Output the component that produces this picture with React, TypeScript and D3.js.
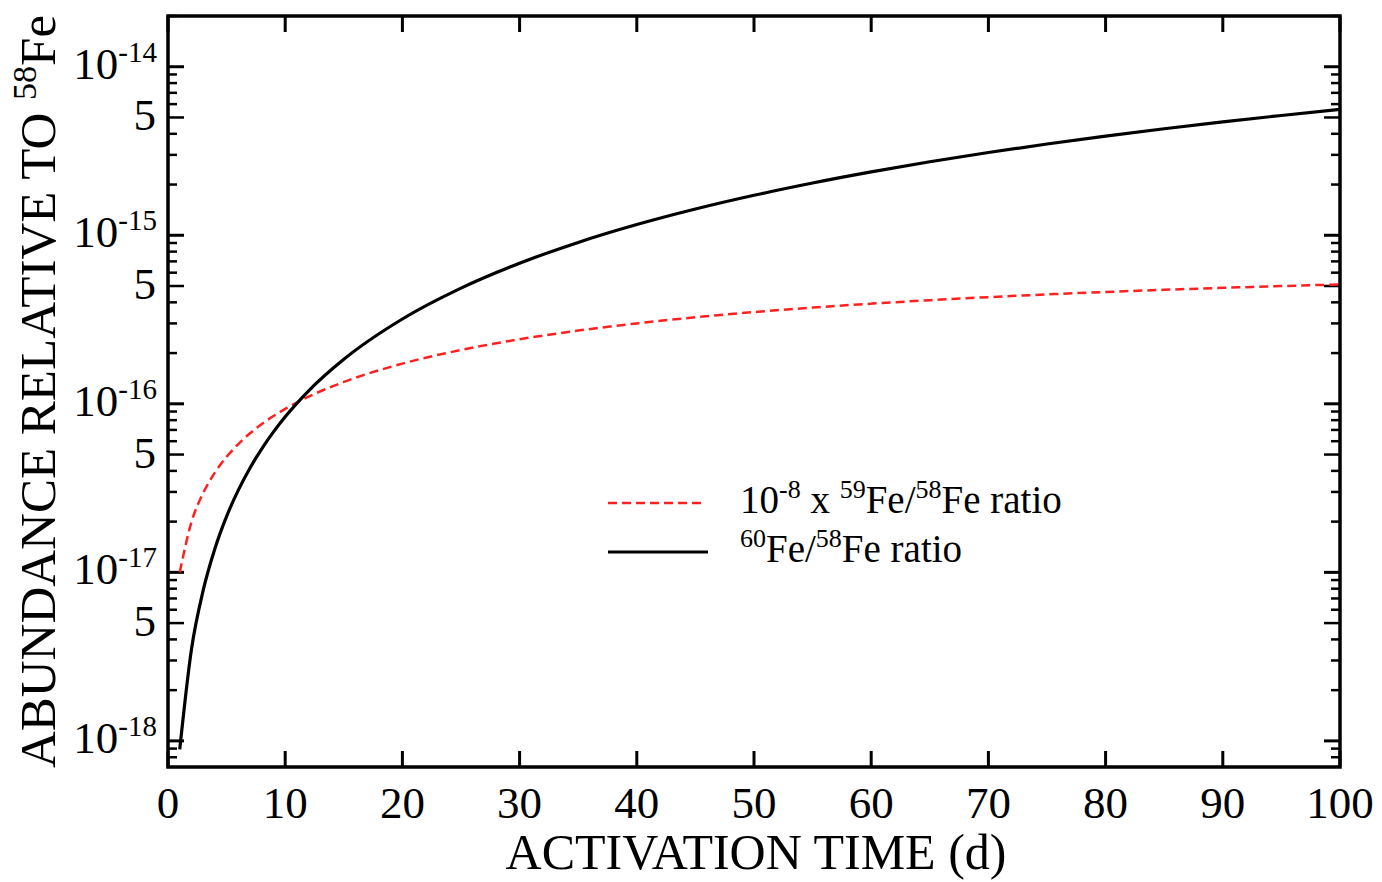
import React from "react";
import * as d3 from "d3";

// activation time (days)
const days = [1, 2, 3, 4, 5, 6, 7, 8, 9, 10, 12, 15, 20, 25, 30, 35, 40, 45, 50, 55, 60, 65, 70, 75, 80, 85, 90, 95, 100];

// 10^-8 x 59Fe/58Fe ratio
const fe59 = [
  1.0e-17, 1.985e-17, 2.954e-17, 3.908e-17, 4.848e-17, 5.773e-17, 6.684e-17, 7.581e-17, 8.463e-17, 9.332e-17,
  1.103e-16, 1.348e-16, 1.732e-16, 2.087e-16, 2.415e-16, 2.719e-16, 3.0e-16, 3.26e-16, 3.501e-16, 3.723e-16,
  3.929e-16, 4.119e-16, 4.295e-16, 4.458e-16, 4.609e-16, 4.748e-16, 4.877e-16, 4.997e-16, 5.107e-16,
];

// 60Fe/58Fe ratio
const fe60 = [
  8.9e-19, 3.49e-18, 7.81e-18, 1.381e-17, 2.147e-17, 3.075e-17, 4.164e-17, 5.41e-17, 6.813e-17, 8.371e-17,
  1.194e-16, 1.837e-16, 3.186e-16, 4.857e-16, 6.827e-16, 9.073e-16, 1.1575e-15, 1.4313e-15, 1.727e-15, 2.043e-15,
  2.378e-15, 2.729e-15, 3.097e-15, 3.48e-15, 3.877e-15, 4.286e-15, 4.707e-15, 5.138e-15, 5.58e-15,
];

const xTicks = [0, 10, 20, 30, 40, 50, 60, 70, 80, 90, 100];
const decades = [-18, -17, -16, -15, -14];
const fives = [5e-18, 5e-17, 5e-16, 5e-15];

const W = 1382;
const H = 882;
const left = 168;
const right = 1340;
const top = 16;
const bottom = 767;
const FONT = "'Liberation Serif', 'Times New Roman', serif";

export default function App() {
  const x = d3.scaleLinear().domain([0, 100]).range([left, right]);
  const y = d3.scaleLog().domain([7e-19, 2e-14]).range([bottom, top]);

  const line = d3
    .line<number>()
    .x((_, i) => x(days[i]))
    .y((d) => y(d))
    .curve(d3.curveMonotoneX);

  // minor ticks on the log axis (5 gets a long one)
  const minor: { v: number; m: number }[] = [];
  for (let e = -19; e <= -14; e++) {
    for (let m = 2; m <= 9; m++) {
      const v = m * Math.pow(10, e);
      if (v >= 7e-19 && v <= 2e-14) minor.push({ v, m });
    }
  }

  return (
    <svg
      width={W}
      height={H}
      style={{ position: "absolute", left: 0, top: 0, background: "#fff" }}
      fontFamily={FONT}
    >
      {/* y ticks, left and right */}
      {minor.map((d, i) => {
        const len = d.m === 5 ? 16 : 9;
        return (
          <g key={"m" + i} stroke="#000" strokeWidth={2.5}>
            <line x1={left} x2={left + len} y1={y(d.v)} y2={y(d.v)} />
            <line x1={right} x2={right - len} y1={y(d.v)} y2={y(d.v)} />
          </g>
        );
      })}
      {decades.map((e) => (
        <g key={"d" + e} stroke="#000" strokeWidth={3}>
          <line x1={left} x2={left + 16} y1={y(Math.pow(10, e))} y2={y(Math.pow(10, e))} />
          <line x1={right} x2={right - 16} y1={y(Math.pow(10, e))} y2={y(Math.pow(10, e))} />
        </g>
      ))}

      {/* x ticks top and bottom */}
      {xTicks.map((t) => (
        <g key={"x" + t} stroke="#000" strokeWidth={3}>
          <line x1={x(t)} x2={x(t)} y1={bottom} y2={bottom - 16} />
          <line x1={x(t)} x2={x(t)} y1={top} y2={top + 16} />
        </g>
      ))}

      {/* curves */}
      <path d={line(fe59) || ""} fill="none" stroke="#ff2020" strokeWidth={2.5} strokeDasharray="9,5" />
      <path d={line(fe60) || ""} fill="none" stroke="#000" strokeWidth={3.2} />

      {/* frame */}
      <rect x={left} y={top} width={right - left} height={bottom - top} fill="none" stroke="#000" strokeWidth={3.5} />

      {/* y tick labels */}
      {decades.map((e) => (
        <text key={"ld" + e} x={157} y={y(Math.pow(10, e)) + 12} textAnchor="end" fontSize={45}>
          10
          <tspan fontSize={29} dy={-17}>
            {String(e)}
          </tspan>
        </text>
      ))}
      {fives.map((v) => (
        <text key={"l5" + v} x={156} y={y(v) + 13} textAnchor="end" fontSize={45}>
          5
        </text>
      ))}

      {/* x tick labels */}
      {xTicks.map((t) => (
        <text key={"lx" + t} x={x(t)} y={818} textAnchor="middle" fontSize={45}>
          {t}
        </text>
      ))}

      {/* axis titles */}
      <text x={756} y={869} textAnchor="middle" fontSize={50}>
        ACTIVATION TIME (d)
      </text>
      <text transform={`translate(55,${(top + bottom) / 2}) rotate(-90)`} textAnchor="middle" fontSize={51}>
        ABUNDANCE RELATIVE TO{" "}
        <tspan fontSize={34} dy={-19}>
          58
        </tspan>
        <tspan dy={19}>Fe</tspan>
      </text>

      {/* legend */}
      <line x1={608} x2={706} y1={503} y2={503} stroke="#ff2020" strokeWidth={2.5} strokeDasharray="9,5" />
      <line x1={608} x2={708} y1={552} y2={552} stroke="#000" strokeWidth={3.2} />
      <text x={740} y={513} fontSize={39}>
        10
        <tspan fontSize={26} dy={-15}>
          -8
        </tspan>
        <tspan dy={15}> x </tspan>
        <tspan fontSize={26} dy={-15}>
          59
        </tspan>
        <tspan dy={15}>Fe/</tspan>
        <tspan fontSize={26} dy={-15}>
          58
        </tspan>
        <tspan dy={15}>Fe ratio</tspan>
      </text>
      <text x={740} y={562} fontSize={39}>
        <tspan fontSize={26} dy={-15}>
          60
        </tspan>
        <tspan dy={15}>Fe/</tspan>
        <tspan fontSize={26} dy={-15}>
          58
        </tspan>
        <tspan dy={15}>Fe ratio</tspan>
      </text>
    </svg>
  );
}
